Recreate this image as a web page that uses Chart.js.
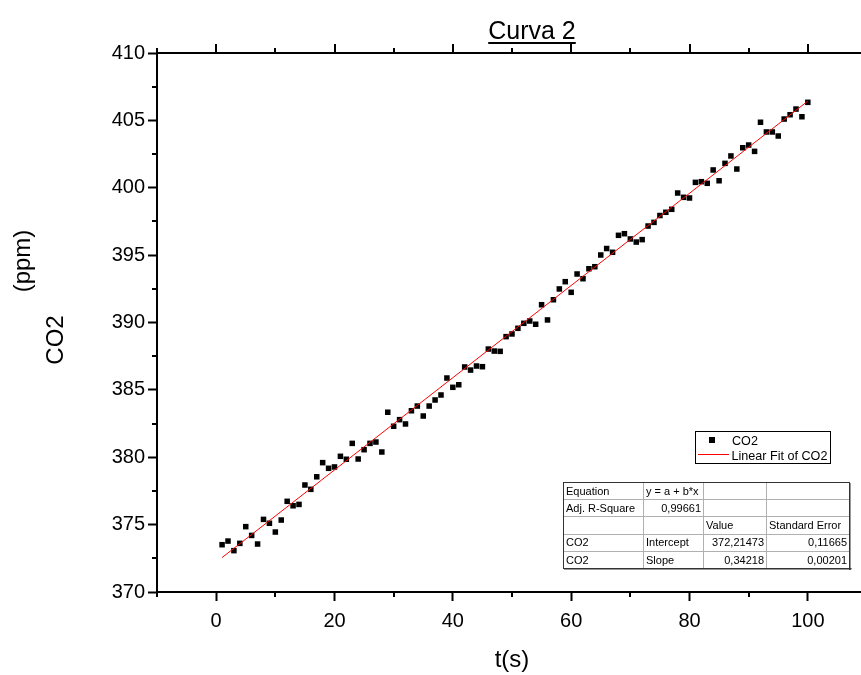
<!DOCTYPE html>
<html><head><meta charset="utf-8">
<script src="https://cdn.jsdelivr.net/npm/chart.js@4"></script>
<style>html,body{margin:0;padding:0;background:#fff;overflow:hidden;}</style>
</head><body>
<canvas id="c" width="872" height="675"></canvas>
<script>
// ---- data ----
const timeS = [1,2,3,4,5,6,7,8,9,10,11,12,13,14,15,16,17,18,19,20,
  21,22,23,24,25,26,27,28,29,30,31,32,33,34,35,36,37,38,39,40,
  41,42,43,44,45,46,47,48,49,50,51,52,53,54,55,56,57,58,59,60,
  61,62,63,64,65,66,67,68,69,70,71,72,73,74,75,76,77,78,79,80,
  81,82,83,84,85,86,87,88,89,90,91,92,93,94,95,96,97,98,99,100];
const co2 = [373.51,373.78,373.07,373.61,374.85,374.20,373.56,375.39,375.10,374.45,
  375.34,376.73,376.40,376.50,377.94,377.62,378.55,379.60,379.18,379.28,
  380.07,379.85,381.03,379.87,380.56,381.03,381.13,380.39,383.34,382.30,
  382.79,382.47,383.45,383.80,383.06,383.80,384.25,384.62,385.88,385.19,
  385.38,386.70,386.47,386.77,386.72,388.03,387.88,387.86,388.95,389.15,
  389.57,389.94,390.11,389.87,391.32,390.19,391.69,392.49,393.03,392.24,
  393.60,393.25,393.99,394.14,395.01,395.49,395.21,396.47,396.59,396.20,
  395.97,396.15,397.16,397.43,397.94,398.18,398.40,399.61,399.29,399.24,
  400.40,400.45,400.33,401.32,400.52,401.81,402.36,401.39,402.97,403.17,
  402.70,404.86,404.14,404.14,403.84,405.10,405.42,405.84,405.27,406.34];
const fitIntercept = 372.21473;
const fitSlope = 0.34218;
const fitRange = [1, 100];
const xMajorTicks = [0,20,40,60,80,100];
const xMinorTicks = [-10,10,30,50,70,90,110];
const yMajorTicks = [370,375,380,385,390,395,400,405,410];
const yMinorTicks = [372.5,377.5,382.5,387.5,392.5,397.5,402.5,407.5];
const chartTitle = 'Curva 2';
const xTitle = 't(s)';
const yTitleParts = ['(ppm)', 'CO2'];
const legendLabels = ['CO2', 'Linear Fit of CO2'];
const tableRows = [
  ['Equation','y = a + b*x','',''],
  ['Adj. R-Square','0,99661','',''],
  ['','','Value','Standard Error'],
  ['CO2','Intercept','372,21473','0,11665'],
  ['CO2','Slope','0,34218','0,00201']
];
const tableRightAligned = ['0,99661','372,21473','0,11665','0,34218','0,00201'];

// ---- build ----
const FONT = '"Liberation Sans", Arial, Helvetica, sans-serif';
Chart.defaults.font.family = FONT;
Chart.defaults.color = '#000';

const points = timeS.map((t, i) => ({x: t, y: co2[i]}));
const fitPoints = fitRange.map(t => ({x: t, y: fitIntercept + fitSlope * t}));

const decor = {
  id: 'decor',
  afterDraw(chart) {
    const {ctx, chartArea: a, scales: {x, y}} = chart;
    ctx.save();
    ctx.strokeStyle = '#000';
    ctx.lineWidth = 2;
    // top axis
    ctx.beginPath();
    ctx.moveTo(a.left - 1, a.top); ctx.lineTo(a.right + 2, a.top);
    xMajorTicks.forEach(v => { const p = Math.round(x.getPixelForValue(v)); ctx.moveTo(p, a.top); ctx.lineTo(p, a.top - 9); });
    xMinorTicks.forEach(v => { const p = Math.round(x.getPixelForValue(v)); ctx.moveTo(p, a.top); ctx.lineTo(p, a.top - 5); });
    // bottom minor
    xMinorTicks.forEach(v => { const p = Math.round(x.getPixelForValue(v)); ctx.moveTo(p, a.bottom); ctx.lineTo(p, a.bottom + 5); });
    // left minor
    yMinorTicks.forEach(v => { const p = Math.round(y.getPixelForValue(v)); ctx.moveTo(a.left, p); ctx.lineTo(a.left - 5, p); });
    ctx.stroke();

    // title
    ctx.fillStyle = '#000';
    ctx.font = '25px ' + FONT;
    ctx.textAlign = 'center';
    ctx.textBaseline = 'alphabetic';
    const tx = 532, ty = 39;
    ctx.fillText(chartTitle, tx, ty);
    const tw = ctx.measureText(chartTitle).width;
    ctx.fillRect(tx - tw / 2, ty + 3, tw, 2);

    // y title (rotated)
    ctx.font = '24px ' + FONT;
    ctx.textBaseline = 'middle';
    [[yTitleParts[0], 23, 261], [yTitleParts[1], 56, 340]].forEach(([s, cx, cy]) => {
      ctx.save(); ctx.translate(cx, cy); ctx.rotate(-Math.PI / 2);
      ctx.fillText(s, 0, 0); ctx.restore();
    });

    // legend
    const L = {x: 695, y: 431, w: 135, h: 32};
    ctx.fillStyle = '#fff';
    ctx.fillRect(L.x, L.y, L.w, L.h);
    ctx.lineWidth = 1;
    ctx.strokeStyle = '#000';
    ctx.strokeRect(L.x + 0.5, L.y + 0.5, L.w, L.h);
    ctx.fillStyle = '#000';
    ctx.fillRect(709, 437, 6, 6);
    ctx.strokeStyle = '#ff0000';
    ctx.beginPath(); ctx.moveTo(698, 454.5); ctx.lineTo(729, 454.5); ctx.stroke();
    ctx.font = '12.6px ' + FONT;
    ctx.textAlign = 'left';
    ctx.textBaseline = 'alphabetic';
    ctx.fillText(legendLabels[0], 732, 445);
    ctx.fillText(legendLabels[1], 731.5, 459.5);

    // table
    const colX = [563, 643, 703, 766, 849];
    const rowY = [482, 499.2, 516.4, 533.6, 550.8, 568];
    ctx.fillStyle = '#fff';
    ctx.fillRect(colX[0], rowY[0], colX[4] - colX[0], rowY[5] - rowY[0]);
    ctx.strokeStyle = '#b0b0b0';
    ctx.lineWidth = 1;
    ctx.beginPath();
    for (let i = 1; i < 4; i++) { ctx.moveTo(colX[i] + 0.5, rowY[0]); ctx.lineTo(colX[i] + 0.5, rowY[5]); }
    for (let j = 1; j < 5; j++) { ctx.moveTo(colX[0], Math.round(rowY[j]) + 0.5); ctx.lineTo(colX[4], Math.round(rowY[j]) + 0.5); }
    ctx.stroke();
    ctx.strokeStyle = '#333';
    ctx.strokeRect(colX[0] + 0.5, rowY[0] + 0.5, colX[4] - colX[0], rowY[5] - rowY[0]);
    ctx.fillStyle = '#333';
    ctx.fillRect(colX[4], rowY[0] + 1, 1.5, rowY[5] - rowY[0] + 1);
    ctx.fillRect(colX[0] + 1, rowY[5], colX[4] - colX[0] + 1.5, 1.5);
    ctx.fillStyle = '#000';
    ctx.font = '11px ' + FONT;
    tableRows.forEach((row, j) => {
      row.forEach((s, i) => {
        if (!s) return;
        const base = rowY[j] + 12.8;
        if (tableRightAligned.includes(s)) { ctx.textAlign = 'right'; ctx.fillText(s, colX[i + 1] - 2, base); }
        else { ctx.textAlign = 'left'; ctx.fillText(s, colX[i] + 3, base); }
      });
    });
    ctx.restore();
  }
};

new Chart(document.getElementById('c'), {
  type: 'scatter',
  data: {
    datasets: [
      {label: legendLabels[1], data: fitPoints, showLine: true, borderColor: '#ff0000', borderWidth: 1,
       pointRadius: 0, pointHoverRadius: 0, fill: false, tension: 0},
      {label: legendLabels[0], data: points, pointStyle: 'rect', pointRadius: 3.9, pointHoverRadius: 3.9,
       backgroundColor: '#000', borderColor: '#000', borderWidth: 0}
    ]
  },
  options: {
    responsive: false,
    animation: false,
    events: [],
    layout: {padding: {top: 53, right: 5, bottom: 0, left: 0}},
    plugins: {legend: {display: false}, tooltip: {enabled: false}, title: {display: false}},
    scales: {
      x: {
        type: 'linear', position: 'bottom', min: -10, max: 110,
        afterBuildTicks: s => { s.ticks = xMajorTicks.map(v => ({value: v})); },
        afterFit: s => { s.height = 83; },
        grid: {display: true, drawOnChartArea: false, drawTicks: true, tickLength: 9, tickWidth: 2, tickColor: '#000'},
        border: {display: true, color: '#000', width: 2},
        ticks: {font: {size: 20}, color: '#000', padding: 8, maxRotation: 0, autoSkip: false},
        title: {display: true, text: xTitle, font: {size: 24}, color: '#000', padding: {top: 0, bottom: 0}}
      },
      y: {
        type: 'linear', position: 'left', min: 370, max: 410,
        afterBuildTicks: s => { s.ticks = yMajorTicks.map(v => ({value: v})); },
        afterFit: s => { s.width = 157; },
        grid: {display: true, drawOnChartArea: false, drawTicks: true, tickLength: 9, tickWidth: 2, tickColor: '#000'},
        border: {display: true, color: '#000', width: 2},
        ticks: {font: {size: 20}, color: '#000', padding: 3, autoSkip: false}
      }
    }
  },
  plugins: [decor]
});
</script>
</body></html>
